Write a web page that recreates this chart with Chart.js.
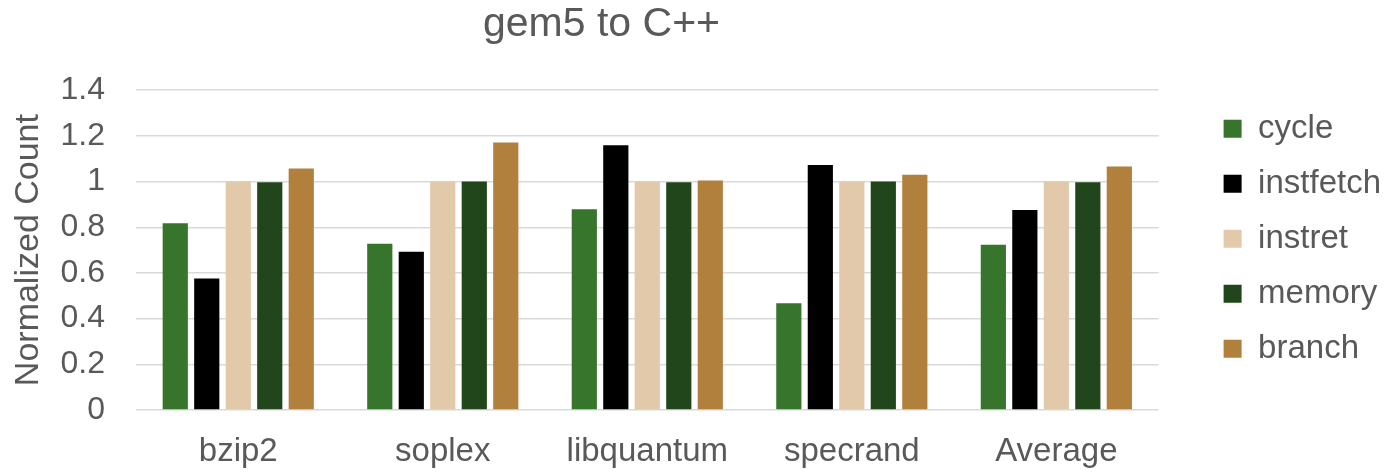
<!DOCTYPE html>
<html>
<head>
<meta charset="utf-8">
<title>gem5 to C++</title>
<script src="https://cdn.jsdelivr.net/npm/chart.js@4.4.1/dist/chart.umd.min.js"></script>
<style>
    html, body { margin: 0; padding: 0; background: #ffffff; }
    #wrap { position: relative; width: 1392px; height: 473px; }
</style>
</head>
<body>
<div id="wrap"><canvas id="gem5-chart"></canvas></div>
<script>
    "use strict";

    // Data
    var benchmarks = ["bzip2", "soplex", "libquantum", "specrand", "Average"];
    var cycle     = [0.817, 0.728, 0.879, 0.467, 0.723];
    var instfetch = [0.576, 0.693, 1.159, 1.073, 0.876];
    var instret   = [1.0, 1.0, 1.0, 1.0, 1.0];
    var memory    = [0.997, 1.0, 0.997, 1.0, 0.997];
    var branch    = [1.057, 1.171, 1.005, 1.03, 1.066];
    var yTickLabels = ["0", "0.2", "0.4", "0.6", "0.8", "1", "1.2", "1.4"];

    var textGrey = "#595959";
    var fontFamily = "'Liberation Sans', Arial, Helvetica, sans-serif";

    Chart.defaults.font.family = fontFamily;
    Chart.defaults.color = textGrey;

    // Moves the title to where Excel put it (a bit left of centre)
    var titleShift = {
        id: "titleShift",
        afterLayout: function (chart) {
            var t = chart.titleBlock;
            if (t) {
                t.left -= 98;
                t.right -= 98;
            }
        }
    };

    function bar(label, data, color) {
        return {
            label: label,
            data: data,
            backgroundColor: color,
            borderWidth: 0,
            categoryPercentage: 0.77,
            barPercentage: 0.8
        };
    }

    var ctx = document.getElementById("gem5-chart").getContext("2d");
    var myChart = new Chart(ctx, {
        type: "bar",
        data: {
            labels: benchmarks,
            datasets: [
                bar("cycle", cycle, "#37742C"),
                bar("instfetch", instfetch, "#000000"),
                bar("instret", instret, "#E2C9AA"),
                bar("memory", memory, "#22461B"),
                bar("branch", branch, "#B0803C")
            ]
        },
        options: {
            responsive: true,
            maintainAspectRatio: false,
            animation: false,
            layout: {
                padding: { left: 8, right: 1, top: 0, bottom: 0 }
            },
            plugins: {
                title: {
                    display: true,
                    text: "gem5 to C++",
                    color: textGrey,
                    font: { size: 41, weight: "normal" },
                    padding: { top: 0, bottom: 41 }
                },
                legend: {
                    position: "right",
                    align: "start",
                    fullSize: false,
                    labels: {
                        boxWidth: 18,
                        boxHeight: 18,
                        padding: 22,
                        color: textGrey,
                        font: { size: 33 }
                    }
                },
                tooltip: { enabled: false }
            },
            scales: {
                x: {
                    grid: { display: false, drawTicks: false },
                    border: { display: false },
                    ticks: {
                        color: textGrey,
                        font: { size: 33 },
                        padding: 22,
                        maxRotation: 0
                    },
                    afterFit: function (s) { s.height = 63; }
                },
                y: {
                    min: 0,
                    max: 1.4,
                    grid: { color: "#D9D9D9", lineWidth: 1.5, drawTicks: false },
                    border: { display: false },
                    ticks: {
                        stepSize: 0.2,
                        color: textGrey,
                        font: { size: 32 },
                        padding: 31,
                        callback: function (v, i) { return yTickLabels[i]; }
                    },
                    title: {
                        display: true,
                        text: "Normalized Count",
                        color: textGrey,
                        font: { size: 34 },
                        padding: { top: 0, bottom: 0 }
                    },
                    afterFit: function (s) { s.width = 128; }
                },
                // empty axis, only keeps a gap between plot and legend
                yr: {
                    position: "right",
                    grid: { display: false },
                    border: { display: false },
                    ticks: { display: false },
                    afterFit: function (s) { s.width = 43; }
                }
            }
        },
        plugins: [titleShift]
    });
</script>
</body>
</html>
